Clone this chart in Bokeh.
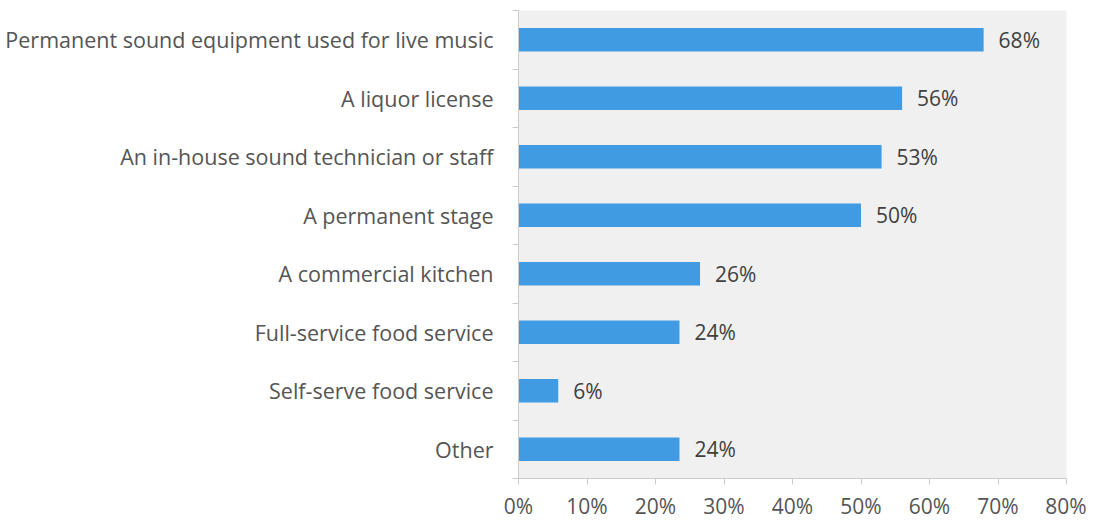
from bokeh.plotting import figure
from bokeh.models import ColumnDataSource, FixedTicker, Range1d, PrintfTickFormatter
from bokeh.core.properties import value
from bokeh.embed import file_html
from bokeh.resources import INLINE

categories = [
    "Permanent sound equipment used for live music",
    "A liquor license",
    "An in-house sound technician or staff",
    "A permanent stage",
    "A commercial kitchen",
    "Full-service food service",
    "Self-serve food service",
    "Other",
]
values = [67.9, 56.0, 53.0, 50.0, 26.5, 23.5, 5.8, 23.5]
value_labels = ["68%", "56%", "53%", "50%", "26%", "24%", "6%", "24%"]
x_ticks = [0, 10, 20, 30, 40, 50, 60, 70, 80]

n = len(categories)
ypos = [n - i - 0.5 for i in range(n)]

src = ColumnDataSource(dict(cat=categories, val=values, lab=value_labels, y=ypos))

FONT = "Open Sans"

p = figure(width=1086, height=522, output_backend="svg", toolbar_location=None,
           x_range=Range1d(0, 80), y_range=Range1d(0, n),
           min_border_left=518, min_border_right=20, min_border_top=10, min_border_bottom=30)
p.background_fill_color = "#f0f0f0"
p.border_fill_color = "white"
p.outline_line_color = None
p.grid.grid_line_color = None

p.hbar(y="y", right="val", left=0, height=0.4, source=src, color="#419be3", line_color=None)
p.text(x="val", y="y", text="lab", source=src, x_offset=15, text_baseline="middle",
       text_font=value(FONT), text_font_size="21px", text_color="#404040")

# x axis
p.xaxis.ticker = FixedTicker(ticks=x_ticks)
p.xaxis.formatter = PrintfTickFormatter(format="%d%%")
p.xaxis.axis_line_color = "#cccccc"
p.xaxis.major_tick_line_color = "#cccccc"
p.xaxis.major_tick_in = 0
p.xaxis.major_tick_out = 6
p.xaxis.minor_tick_line_color = None
p.xaxis.major_label_text_font = FONT
p.xaxis.major_label_text_font_size = "21px"
p.xaxis.major_label_text_color = "#555555"
p.xaxis.major_label_standoff = 7

# y axis
p.yaxis.ticker = FixedTicker(ticks=ypos, minor_ticks=list(range(n + 1)))
p.yaxis.major_label_overrides = {y: c for y, c in zip(ypos, categories)}
p.yaxis.axis_line_color = "#cccccc"
p.yaxis.major_tick_line_color = None
p.yaxis.minor_tick_line_color = "#cccccc"
p.yaxis.minor_tick_in = 0
p.yaxis.minor_tick_out = 6
p.yaxis.major_label_text_font = FONT
p.yaxis.major_label_text_font_size = "21.5px"
p.yaxis.major_label_text_color = "#555555"
p.yaxis.major_label_standoff = 19

open("out.html", "w").write(file_html(p, INLINE))
